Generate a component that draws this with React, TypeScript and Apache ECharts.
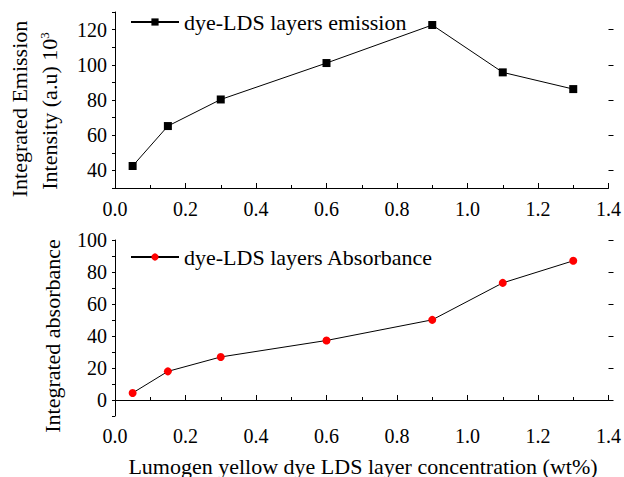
import React, { useEffect, useRef } from "react";
import * as echarts from "echarts";

const xValues = [0.05, 0.15, 0.3, 0.6, 0.9, 1.1, 1.3];
const emission = [42.5, 65.2, 80.3, 101.0, 122.6, 95.7, 86.2];
const absorbance = [4.4, 17.9, 26.9, 37.2, 50.1, 73.2, 87.0];
const topYLabels = [40, 60, 80, 100, 120];
const bottomYLabels = [0, 20, 40, 60, 80, 100];
const emissionName = "dye-LDS layers emission";
const absorbanceName = "dye-LDS layers Absorbance";
const xTitle = "Lumogen yellow dye LDS layer concentration (wt%)";

const FONT = "'Liberation Serif', 'Times New Roman', serif";

export default function App() {
  const ref = useRef<HTMLDivElement>(null);
  useEffect(() => {
    if (!ref.current) return;
    const chart = echarts.init(ref.current, null, { renderer: "svg" });
    const axisLine = { show: true, lineStyle: { color: "#000", width: 1 } };
    const labelStyle = { color: "#000", fontFamily: FONT, fontSize: 20 };
    const xAxis = (gi: number, margin: number) => ({
      type: "value",
      gridIndex: gi,
      min: 0,
      max: 1.4,
      interval: 0.2,
      axisLine,
      axisTick: { show: true, inside: true, length: 5, lineStyle: { color: "#000" } },
      minorTick: { show: true, splitNumber: 2, length: 3, lineStyle: { color: "#000" } },
      splitLine: { show: false },
      axisLabel: { ...labelStyle, margin, formatter: (v: number) => v.toFixed(1) },
    });
    const yMain = (gi: number, min: number, max: number, labels: number[]) => ({
      type: "value",
      gridIndex: gi,
      min,
      max,
      interval: 10,
      axisLine,
      axisTick: { show: true, length: 3, lineStyle: { color: "#000" } },
      splitLine: { show: false },
      axisLabel: { ...labelStyle, margin: 8, customValues: labels },
    });
    const yOverlay = (gi: number, min: number, max: number, labels: number[]) => ({
      type: "value",
      gridIndex: gi,
      min,
      max,
      interval: 10,
      axisLine: { show: false },
      axisTick: { show: true, length: 5, customValues: labels, lineStyle: { color: "#000" } },
      splitLine: { show: false },
      axisLabel: { show: false },
    });
    const legendBase = {
      left: 125,
      itemWidth: 48,
      itemHeight: 9,
      itemGap: 8,
      textStyle: { color: "#000", fontFamily: FONT, fontSize: 22 },
    };
    chart.setOption({
      animation: false,
      backgroundColor: "#fff",
      grid: [
        { left: 115, top: 12, width: 494, height: 176 },
        { left: 115, top: 240, width: 494, height: 176 },
      ],
      xAxis: [xAxis(0, 11), xAxis(1, 10)],
      yAxis: [
        yMain(0, 30, 130, topYLabels),
        yOverlay(0, 30, 130, topYLabels),
        yMain(1, -10, 100, bottomYLabels),
        yOverlay(1, -10, 100, bottomYLabels),
      ],
      legend: [
        { ...legendBase, data: [emissionName], top: 6 },
        { ...legendBase, data: [absorbanceName], top: 241 },
      ],
      series: [
        {
          name: emissionName,
          type: "line",
          xAxisIndex: 0,
          yAxisIndex: 0,
          data: xValues.map((x, i) => [x, emission[i]]),
          symbol: "rect",
          symbolSize: 8,
          lineStyle: { color: "#000", width: 1 },
          itemStyle: { color: "#000" },
        },
        {
          name: absorbanceName,
          type: "line",
          xAxisIndex: 1,
          yAxisIndex: 2,
          data: xValues.map((x, i) => [x, absorbance[i]]),
          symbol: "circle",
          symbolSize: 8,
          lineStyle: { color: "#000", width: 1 },
          itemStyle: { color: "#ff0000" },
        },
      ],
      graphic: [
        {
          type: "text",
          x: 19,
          y: 109,
          rotation: Math.PI / 2,
          style: {
            text: "Integrated Emission",
            fontFamily: FONT,
            fontSize: 22,
            fill: "#000",
            align: "center",
            verticalAlign: "middle",
          },
        },
        {
          type: "text",
          x: 49,
          y: 111,
          rotation: Math.PI / 2,
          style: {
            text: "Intensity (a.u) 10{sup|3}",
            fontFamily: FONT,
            fontSize: 22,
            fill: "#000",
            align: "center",
            verticalAlign: "middle",
            rich: {
              sup: { fontFamily: FONT, fontSize: 13, fill: "#000", verticalAlign: "top", lineHeight: 22 },
            },
          },
        },
        {
          type: "text",
          x: 52,
          y: 336,
          rotation: Math.PI / 2,
          style: {
            text: "Integrated absorbance",
            fontFamily: FONT,
            fontSize: 22,
            fill: "#000",
            align: "center",
            verticalAlign: "middle",
          },
        },
        {
          type: "text",
          x: 363,
          y: 466,
          style: {
            text: xTitle,
            fontFamily: FONT,
            fontSize: 22,
            fill: "#000",
            align: "center",
            verticalAlign: "middle",
          },
        },
      ],
    });
    return () => chart.dispose();
  }, []);
  return (
    <div
      ref={ref}
      style={{ position: "fixed", left: 0, top: 0, width: 624, height: 477, background: "#fff" }}
    />
  );
}
